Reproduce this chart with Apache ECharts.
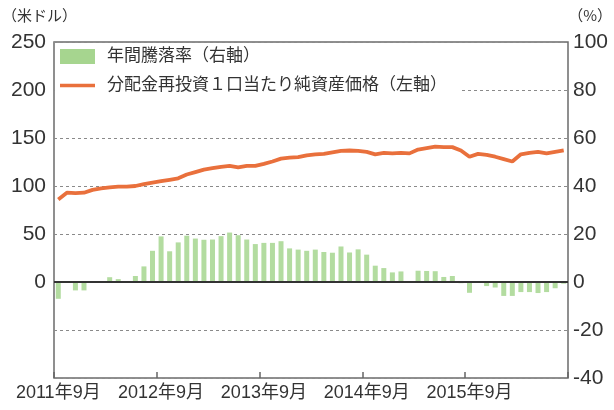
<!DOCTYPE html>
<html><head><meta charset="utf-8">
<script src="https://cdn.jsdelivr.net/npm/echarts@6/dist/echarts.min.js"></script>
<style>html,body{margin:0;padding:0;background:#fff}#c{width:614px;height:410px}</style>
</head><body><div id="c"></div><script>
const months = [
'2011年9月','2011年10月','2011年11月','2011年12月','2012年1月','2012年2月','2012年3月','2012年4月','2012年5月','2012年6月','2012年7月','2012年8月',
'2012年9月','2012年10月','2012年11月','2012年12月','2013年1月','2013年2月','2013年3月','2013年4月','2013年5月','2013年6月','2013年7月','2013年8月',
'2013年9月','2013年10月','2013年11月','2013年12月','2014年1月','2014年2月','2014年3月','2014年4月','2014年5月','2014年6月','2014年7月','2014年8月',
'2014年9月','2014年10月','2014年11月','2014年12月','2015年1月','2015年2月','2015年3月','2015年4月','2015年5月','2015年6月','2015年7月','2015年8月',
'2015年9月','2015年10月','2015年11月','2015年12月','2016年1月','2016年2月','2016年3月','2016年4月','2016年5月','2016年6月','2016年7月','2016年8月'];
const navValues = [
86, 93, 92.5, 93, 96, 97.5, 98.5, 99.3, 99.3, 100, 102, 103.5,
105, 106.5, 108, 112, 114.5, 117, 118.5, 120, 121, 119.5, 121, 121,
123, 125.5, 128.5, 129.5, 130, 132, 133, 133.5, 135, 136.5, 137, 136.5,
135.5, 133, 134.5, 134, 134.5, 134, 138, 139.5, 141, 140.5, 140.5, 137,
130.5, 133.5, 132.5, 130.5, 128, 125.5, 133, 134.5, 135.5, 134, 135.5, 137];
const returnValues = [
-7, 0, -3.5, -3.5, 0, 0, 2, 1.2, 0, 2.5, 6.5, 13,
19, 12.8, 16.5, 19.3, 18.1, 17.6, 17.7, 19.1, 20.6, 19.5, 17.7, 15.8,
16.3, 16.3, 17, 14, 13.5, 13, 13.5, 12.5, 12.2, 14.8, 12.3, 13.6,
11.4, 6.8, 5.8, 4, 4.4, 0.3, 4.7, 4.6, 4.5, 2.1, 2.5, -0.5,
-4.5, 0, -1.7, -2.3, -5.8, -5.8, -4.2, -4.2, -4.6, -4.2, -2.6, -0.7];
const leftAxis = {min: -100, max: 250, interval: 50};
const rightAxis = {min: -40, max: 100, interval: 20};
const barName = '年間騰落率（右軸）';
const lineName = '分配金再投資１口当たり純資産価格（左軸）';

const FONT = "'Liberation Sans', 'Noto Sans CJK JP', sans-serif";
const chart = echarts.init(document.getElementById('c'), null, {renderer: 'canvas'});
chart.setOption({
  animation: false,
  textStyle: {fontFamily: FONT},
  grid: {left: 54, right: 46, top: 42, bottom: 32, show: true, borderColor: '#6b6b6b', borderWidth: 1.5},
  graphic: [
    {type: 'text', left: 2, top: 8, style: {text: '（米ドル）', font: "15px 'Noto Sans CJK JP'", fill: '#333'}},
    {type: 'text', right: 2, top: 8, style: {text: '（%）', font: "15px 'Noto Sans CJK JP'", fill: '#333'}}
  ],
  legend: {
    orient: 'vertical', left: 55, top: 45, backgroundColor: '#fff',
    padding: [3, 12, 3, 5], itemGap: 12, itemWidth: 35, itemHeight: 15,
    symbolKeepAspect: true,
    textStyle: {fontSize: 17, color: '#333', fontFamily: FONT, padding: [0, 0, 0, 7]},
    data: [
      {name: barName, icon: 'rect', itemStyle: {color: '#a6d58f'}},
      {name: lineName, icon: 'path://M0,0 L35,0 L35,3.5 L0,3.5 Z', itemStyle: {color: '#e9703c'}}
    ]
  },
  xAxis: {
    type: 'category', data: months, boundaryGap: true,
    axisLine: {show: false, onZero: false},
    axisTick: {show: true, inside: true, length: 6, interval: 11, lineStyle: {color: '#666', width: 1.5}},
    axisLabel: {interval: 11, fontSize: 18, color: '#333', margin: 6, fontFamily: FONT},
    splitLine: {show: false}
  },
  yAxis: [
    {type: 'value', position: 'left', min: leftAxis.min, max: leftAxis.max, interval: leftAxis.interval,
     axisLine: {show: false}, axisTick: {show: false},
     axisLabel: {formatter: v => v < 0 ? '' : String(v), fontSize: 21, color: '#333', margin: 8, fontFamily: FONT},
     splitLine: {show: true, lineStyle: {color: '#8a8a8a', type: [3, 3], width: 1}}},
    {type: 'value', position: 'right', min: rightAxis.min, max: rightAxis.max, interval: rightAxis.interval,
     axisLine: {show: false}, axisTick: {show: false},
     axisLabel: {fontSize: 21, color: '#333', margin: 5, fontFamily: FONT},
     splitLine: {show: false}}
  ],
  series: [
    {name: barName, type: 'bar', yAxisIndex: 1, data: returnValues, barWidth: 5,
     itemStyle: {color: '#b3dca0'}, z: 2,
     markLine: {silent: true, symbol: 'none', label: {show: false},
       lineStyle: {color: '#333', width: 2, type: 'solid'}, data: [{yAxis: 0}]}},
    {name: lineName, type: 'line', yAxisIndex: 0, data: navValues, symbol: 'none',
     lineStyle: {color: '#e9703c', width: 3.8}, itemStyle: {color: '#e9703c'}, z: 3}
  ]
});
</script></body></html>
